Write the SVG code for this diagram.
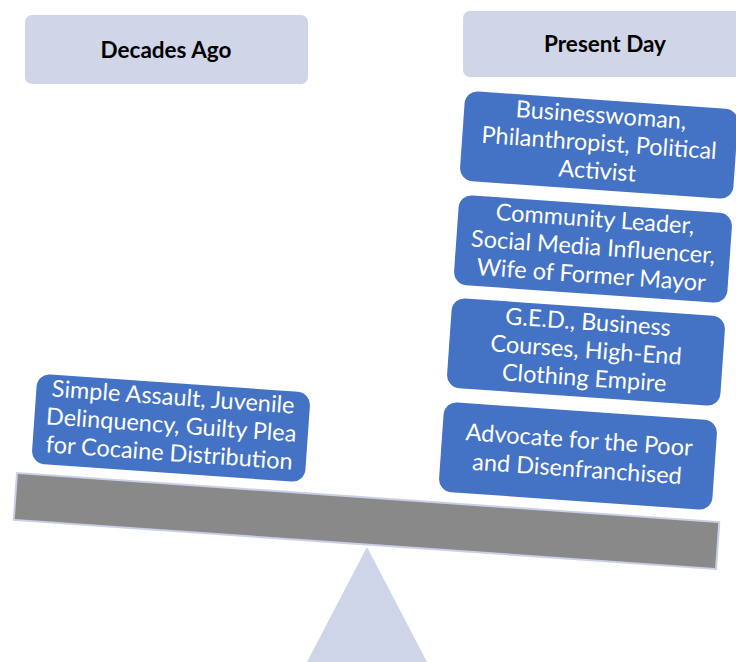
<svg xmlns="http://www.w3.org/2000/svg" width="736" height="662" viewBox="0 0 736 662">
  <style>
    .hdr { fill: #d0d5e8; }
    .hdr-t { font-family: Lato, "Liberation Sans", sans-serif; font-weight: bold; font-size: 22.5px; fill: #000; text-anchor: middle; }
    .card { fill: #4472c4; }
    .card-t { font-family: Lato, "Liberation Sans", sans-serif; font-size: 23.5px; fill: #fff; text-anchor: middle; }
    .beam { fill: #898989; stroke: #c9cfe6; stroke-width: 2; }
    .fulcrum { fill: #cfd5e8; }
  </style>

  <!-- column headings -->
  <g id="heading-past">
    <rect class="hdr" x="25" y="15" width="283" height="69" rx="7"/>
    <text class="hdr-t" x="166" y="58">Decades Ago</text>
  </g>
  <g id="heading-present">
    <rect class="hdr" x="463" y="11" width="290" height="66" rx="7"/>
    <text class="hdr-t" x="605" y="52">Present Day</text>
  </g>

  <!-- fulcrum and beam -->
  <g id="fulcrum">
    <polygon class="fulcrum" points="367,547 307,662 427,662"/>
  </g>
  <g id="beam">
    <rect class="beam" x="-352" y="-23.5" width="704" height="47" transform="translate(366.5 521) rotate(4)"/>
  </g>

  <!-- left pan -->
  <g id="past-record" transform="translate(171 428) rotate(4)">
    <rect class="card" x="-137" y="-45" width="274" height="90" rx="13"/>
    <text class="card-t" y="-23">Simple Assault, Juvenile</text>
    <text class="card-t" y="5">Delinquency, Guilty Plea</text>
    <text class="card-t" y="33">for Cocaine Distribution</text>
  </g>

  <!-- right pan, stacked -->
  <g id="present-roles" transform="translate(599 145) rotate(4)">
    <rect class="card" x="-137" y="-45" width="274" height="90" rx="13"/>
    <text class="card-t" y="-22">Businesswoman,</text>
    <text class="card-t" y="6">Philanthropist, Political</text>
    <text class="card-t" y="34">Activist</text>
  </g>
  <g id="present-community" transform="translate(593 249) rotate(4)">
    <rect class="card" x="-137" y="-45" width="274" height="90" rx="13"/>
    <text class="card-t" y="-22">Community Leader,</text>
    <text class="card-t" y="6">Social Media Influencer,</text>
    <text class="card-t" y="34">Wife of Former Mayor</text>
  </g>
  <g id="present-education" transform="translate(586 352) rotate(4)">
    <rect class="card" x="-137" y="-45" width="274" height="90" rx="13"/>
    <text class="card-t" y="-22">G.E.D., Business</text>
    <text class="card-t" y="6">Courses, High-End</text>
    <text class="card-t" y="34">Clothing Empire</text>
  </g>
  <g id="present-advocacy" transform="translate(578 456) rotate(4)">
    <rect class="card" x="-137" y="-45" width="274" height="90" rx="13"/>
    <text class="card-t" y="-8">Advocate for the Poor</text>
    <text class="card-t" y="21">and Disenfranchised</text>
  </g>
</svg>
